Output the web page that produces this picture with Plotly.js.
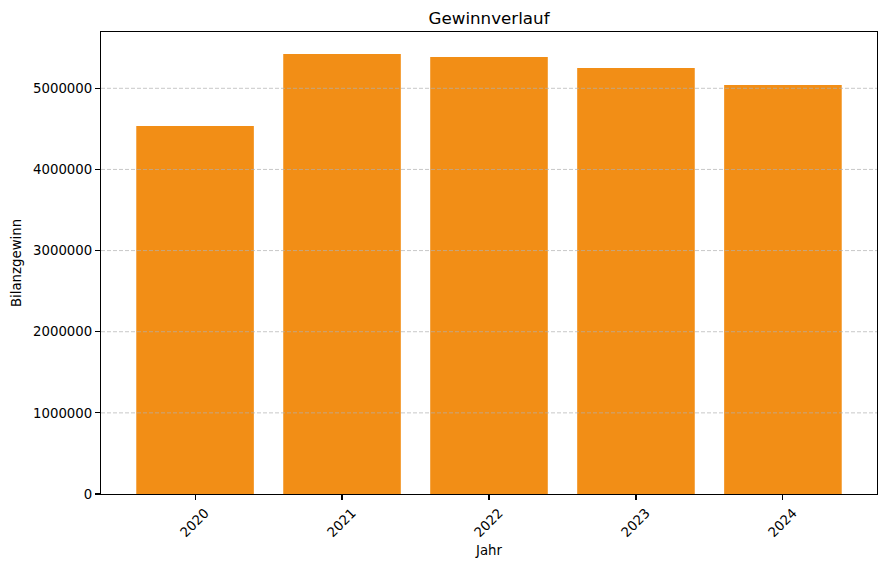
<!DOCTYPE html>
<html>
<head>
<meta charset="utf-8">
<script src="https://cdn.plot.ly/plotly-3.0.1.min.js"></script>
<style>
  body { margin: 0; background: #ffffff; }
  #chart { width: 885px; height: 568px; }
</style>
</head>
<body>
<div id="chart"></div>
<script>
// Bilanzgewinn per Jahr
const jahre = ['2020', '2021', '2022', '2023', '2024'];
const gewinn = [4535000, 5423000, 5386000, 5250000, 5041000];
const yTicks = [0, 1000000, 2000000, 3000000, 4000000, 5000000];

const font = 'DejaVu Sans, sans-serif';

// dashed grid drawn above the bars, like the original
const grid = yTicks.slice(1).map(function (v) {
    return {
        type: 'line', xref: 'paper', yref: 'y', layer: 'above',
        x0: 0, x1: 1, y0: v, y1: v,
        line: { color: 'rgba(176,176,176,0.7)', width: 1, dash: '4px,2px' }
    };
});

const bars = {
    x: jahre,
    y: gewinn,
    type: 'bar',
    width: 0.8,
    marker: { color: '#f28e16', line: { width: 0 } },
    hoverinfo: 'x+y'
};

Plotly.newPlot('chart', [bars], {
    width: 885,
    height: 568,
    showlegend: false,
    paper_bgcolor: '#ffffff',
    plot_bgcolor: '#ffffff',
    margin: { l: 101, r: 8, t: 32, b: 74 },
    font: { family: font, size: 13.3, color: '#000000' },
    title: {
        text: 'Gewinnverlauf',
        font: { family: font, size: 16.7, color: '#000000' },
        x: 0.5526, xanchor: 'center', y: 0.968, yanchor: 'middle'
    },
    xaxis: {
        type: 'category',
        range: [-0.64, 4.64],
        tickangle: -45,
        ticklabelshift: 10,
        ticks: 'outside', ticklen: 5, tickwidth: 1.1, tickcolor: '#000',
        showline: true, linecolor: '#000', linewidth: 1.1, mirror: true,
        showgrid: false, zeroline: false,
        tickfont: { family: font, size: 13.3 },
        title: { text: 'Jahr', font: { family: font, size: 13.3 }, standoff: 6 }
    },
    yaxis: {
        range: [0, 5694000],
        tickvals: yTicks,
        ticktext: yTicks.map(String),
        ticks: 'outside', ticklen: 5, tickwidth: 1.1, tickcolor: '#000',
        showline: true, linecolor: '#000', linewidth: 1.1, mirror: true,
        showgrid: false, zeroline: false,
        tickfont: { family: font, size: 13.3 },
        title: { text: 'Bilanzgewinn', font: { family: font, size: 13.3 }, standoff: 8 }
    },
    shapes: grid,
    bargap: 0.2
}, { displayModeBar: false, staticPlot: true });
</script>
</body>
</html>
